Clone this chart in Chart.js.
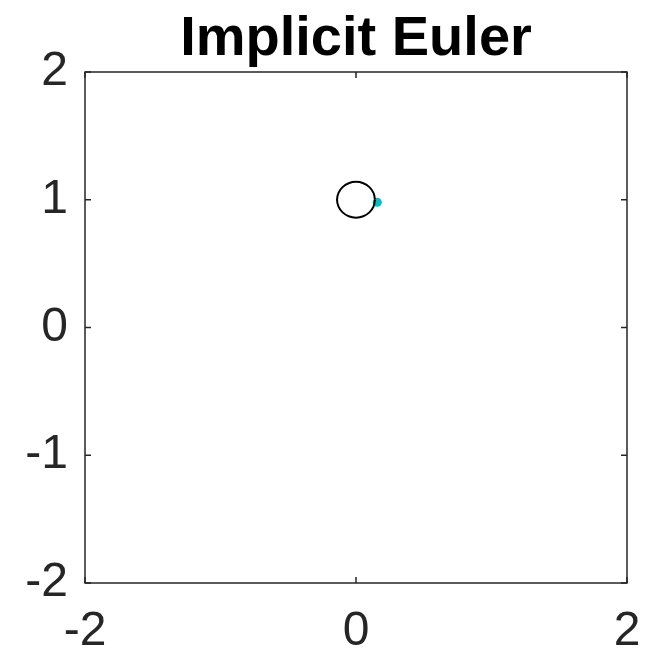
<!DOCTYPE html>
<html>
<head>
<meta charset="utf-8">
<script src="https://cdn.jsdelivr.net/npm/chart.js@4/dist/chart.umd.min.js"></script>
<style>
  html, body { margin: 0; padding: 0; background: #fff; }
  #wrap { width: 648px; height: 654px; }
</style>
</head>
<body>
<div id="wrap"><canvas id="chart" width="648" height="654"></canvas></div>
<script>
// du lieu doc tu hinh
const xTickValues = [-2, 0, 2];
const yTickValues = [-2, -1, 0, 1, 2];
// duong tron quanh (0, 1)
const orbitX = [0.14, 0.129, 0.099, 0.054, 0, -0.054, -0.099, -0.129, -0.14, -0.129, -0.099, -0.054, 0, 0.054, 0.099, 0.129, 0.14];
const orbitY = [1, 1.054, 1.099, 1.129, 1.14, 1.129, 1.099, 1.054, 1, 0.946, 0.901, 0.871, 0.86, 0.871, 0.901, 0.946, 1];
// diem hien tai
const pointX = [0.157];
const pointY = [0.98];

const axisColor = '#262626';
const fontFamily = '"Liberation Sans", Arial, Helvetica, sans-serif';

// khung + vach chia ben trong (kieu MATLAB)
const boxPlugin = {
    id: 'box',
    afterDatasetsDraw(chart) {
        const { ctx, chartArea: a, scales } = chart;
        ctx.save();
        ctx.strokeStyle = axisColor;
        ctx.lineWidth = 1.5;
        ctx.strokeRect(a.left, a.top, a.right - a.left, a.bottom - a.top);
        const len = 6;
        ctx.beginPath();
        xTickValues.forEach(v => {
            const x = scales.x.getPixelForValue(v);
            ctx.moveTo(x, a.bottom); ctx.lineTo(x, a.bottom - len);
            ctx.moveTo(x, a.top); ctx.lineTo(x, a.top + len);
        });
        yTickValues.forEach(v => {
            const y = scales.y.getPixelForValue(v);
            ctx.moveTo(a.left, y); ctx.lineTo(a.left + len, y);
            ctx.moveTo(a.right, y); ctx.lineTo(a.right - len, y);
        });
        ctx.stroke();
        ctx.restore();
    }
};

const ctx = document.getElementById('chart').getContext('2d');
const chart = new Chart(ctx, {
    type: 'scatter',
    data: {
        datasets: [{
            data: orbitX.map((x, i) => ({ x: x, y: orbitY[i] })),
            showLine: true,
            borderColor: '#000',
            borderWidth: 2,
            pointRadius: 0,
            tension: 0.4,
            fill: false
        }, {
            data: pointX.map((x, i) => ({ x: x, y: pointY[i] })),
            pointRadius: 4.5,
            backgroundColor: '#00bfbf',
            borderColor: '#00bfbf',
            borderWidth: 0
        }]
    },
    options: {
        responsive: false,
        animation: false,
        layout: { padding: { top: 0, right: 21, bottom: 0, left: 0 } },
        plugins: {
            legend: { display: false },
            tooltip: { enabled: false },
            title: {
                display: true,
                text: 'Implicit Euler',
                fullSize: false,
                color: '#000',
                font: { family: fontFamily, size: 56, weight: 'bold', lineHeight: 1 },
                padding: { top: 12, bottom: 4 }
            }
        },
        scales: {
            x: {
                type: 'linear',
                min: -2, max: 2,
                grid: { display: false, drawTicks: false },
                border: { display: false },
                afterBuildTicks: (scale) => { scale.ticks = xTickValues.map(v => ({ value: v })); },
                afterFit: (scale) => {
                    scale.height = 71;
                    scale.paddingLeft = 0;
                    scale.paddingRight = 0;
                },
                ticks: {
                    color: axisColor,
                    padding: 20,
                    maxRotation: 0,
                    autoSkip: false,
                    font: { family: fontFamily, size: 48 }
                }
            },
            y: {
                type: 'linear',
                min: -2, max: 2,
                grid: { display: false, drawTicks: false },
                border: { display: false },
                afterBuildTicks: (scale) => { scale.ticks = yTickValues.map(v => ({ value: v })); },
                afterFit: (scale) => {
                    scale.width = 85;
                    scale.paddingTop = 0;
                    scale.paddingBottom = 0;
                },
                ticks: {
                    color: axisColor,
                    padding: 17,
                    autoSkip: false,
                    font: { family: fontFamily, size: 48 }
                }
            }
        }
    },
    plugins: [boxPlugin]
});
</script>
</body>
</html>
